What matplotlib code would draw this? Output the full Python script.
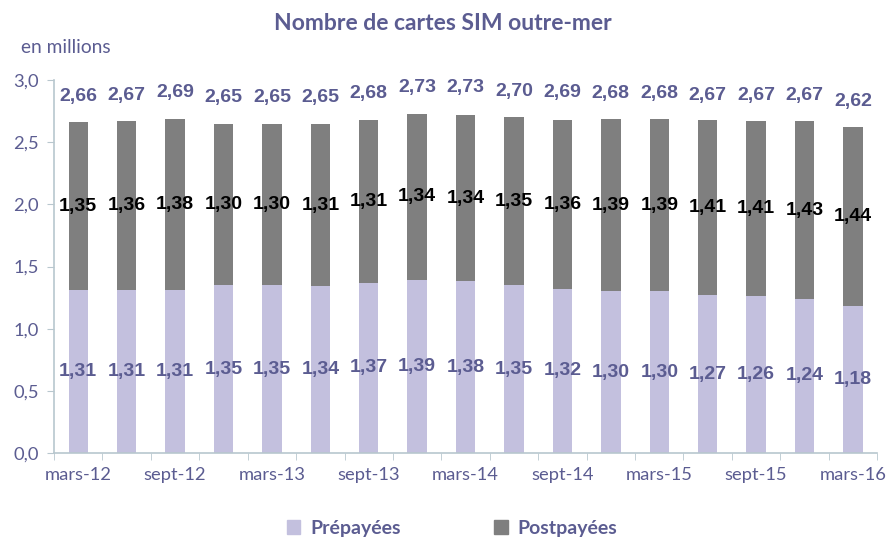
import numpy as np
import matplotlib
matplotlib.use("Agg")
import matplotlib.pyplot as plt
from matplotlib.patches import Patch

# Data (millions of SIM cards, overseas territories)
periods = ["mars-12", "juin-12", "sept-12", "déc-12", "mars-13", "juin-13", "sept-13", "déc-13",
           "mars-14", "juin-14", "sept-14", "déc-14", "mars-15", "juin-15", "sept-15", "déc-15", "mars-16"]
prepaid = [1.31, 1.31, 1.31, 1.35, 1.35, 1.34, 1.37, 1.39, 1.38, 1.35, 1.32, 1.30, 1.30, 1.27, 1.26, 1.24, 1.18]
postpaid = [1.35, 1.36, 1.38, 1.30, 1.30, 1.31, 1.31, 1.34, 1.34, 1.35, 1.36, 1.39, 1.39, 1.41, 1.41, 1.43, 1.44]
totals = [2.66, 2.67, 2.69, 2.65, 2.65, 2.65, 2.68, 2.73, 2.73, 2.70, 2.69, 2.68, 2.68, 2.67, 2.67, 2.67, 2.62]

PRE_COLOR = "#C3C0DE"
POST_COLOR = "#7F7F7F"
TEXT_COLOR = "#5B5C91"
AXIS_COLOR = "#B8C7CE"

def fr(v):
    return f"{v:.2f}".replace(".", ",")

fig = plt.figure(figsize=(8.86, 5.38), dpi=100)
ax = fig.add_axes([0.061, 0.158, 0.929, 0.693])

x = np.arange(len(periods))
w = 0.4
ax.bar(x, prepaid, w, color=PRE_COLOR, label="Prépayées")
ax.bar(x, postpaid, w, bottom=prepaid, color=POST_COLOR, label="Postpayées")

lab_font = dict(family="Liberation Sans", fontweight="bold", fontsize=14)
for i in range(len(x)):
    ax.text(x[i], prepaid[i] / 2, fr(prepaid[i]), ha="center", va="center",
            color=TEXT_COLOR, **lab_font)
    ax.text(x[i], prepaid[i] + postpaid[i] / 2, fr(postpaid[i]), ha="center", va="center",
            color="black", **lab_font)
    ax.text(x[i], totals[i] + 0.21, fr(totals[i]), ha="center", va="center",
            color=TEXT_COLOR, **lab_font)

ax.set_xlim(-0.5, len(x) - 0.5)
ax.set_ylim(0, 3.0)
ax.set_yticks(np.arange(0, 3.01, 0.5))
ax.set_yticklabels([f"{v:.1f}".replace(".", ",") for v in np.arange(0, 3.01, 0.5)])
ax.set_xticks(x[::2])
ax.set_xticklabels(periods[::2])
ax.set_xticks(np.arange(-0.5, len(x), 1.0), minor=True)
ax.tick_params(axis="x", which="major", length=0, pad=10)
ax.tick_params(axis="x", which="minor", length=5, color=AXIS_COLOR, direction="out")
ax.tick_params(axis="y", length=5, color=AXIS_COLOR, pad=6)
for lbl in ax.get_xticklabels() + ax.get_yticklabels():
    lbl.set_family("Lato")
    lbl.set_fontsize(13.2)
    lbl.set_color(TEXT_COLOR)

for s in ["top", "right"]:
    ax.spines[s].set_visible(False)
for s in ["left", "bottom"]:
    ax.spines[s].set_color(AXIS_COLOR)
    ax.spines[s].set_linewidth(1.2)

fig.text(0.5, 0.957, "Nombre de cartes SIM outre-mer", ha="center", va="center",
         family="Lato", fontweight="bold", fontsize=16.5, color=TEXT_COLOR)
fig.text(0.024, 0.912, "en millions", ha="left", va="center",
         family="Lato", fontsize=13.8, color=TEXT_COLOR)

handles = [Patch(color=PRE_COLOR), Patch(color=POST_COLOR)]
leg = fig.legend(handles, ["Prépayées", "Postpayées"], loc="center", bbox_to_anchor=(0.51, 0.018),
                 ncol=2, frameon=False, handlelength=0.7, handleheight=0.7, handletextpad=0.5,
                 columnspacing=4.8, prop=dict(family="Lato", weight="bold", size=14))
for t in leg.get_texts():
    t.set_color(TEXT_COLOR)

fig.savefig("out.png", dpi=100)
